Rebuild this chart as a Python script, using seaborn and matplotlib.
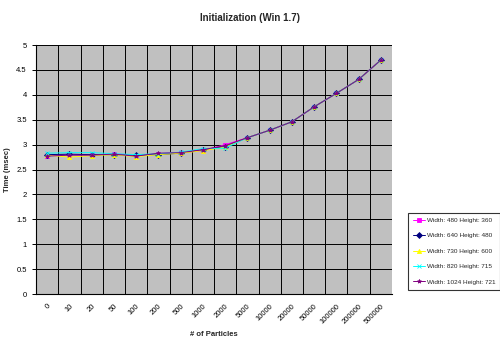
import matplotlib
matplotlib.use("Agg")
import matplotlib.pyplot as plt
import seaborn as sns
import pandas as pd
import numpy as np

categories = ["0", "10", "20", "50", "100", "200", "500", "1000", "2000", "5000",
              "10000", "20000", "50000", "100000", "200000", "500000"]

series_names = ["Width: 480 Height: 360", "Width: 640 Height: 480",
                "Width: 730 Height: 600", "Width: 820 Height: 715",
                "Width: 1024 Height: 721"]

s480 = [2.78, 2.80, 2.79, 2.82, 2.78, 2.82, 2.84, 2.88, 3.00, 3.14, 3.29, 3.46, 3.76, 4.03, 4.31, 4.70]
s640 = [2.80, 2.81, 2.80, 2.80, 2.79, 2.80, 2.83, 2.90, 2.96, 3.14, 3.29, 3.46, 3.76, 4.03, 4.31, 4.70]
s730 = [2.79, 2.75, 2.78, 2.80, 2.76, 2.80, 2.83, 2.88, 2.95, 3.14, 3.29, 3.46, 3.76, 4.03, 4.31, 4.70]
s820 = [2.83, 2.84, 2.84, 2.82, 2.80, 2.82, 2.85, 2.92, 2.93, 3.14, 3.29, 3.46, 3.76, 4.03, 4.31, 4.70]
s1024 = [2.77, 2.79, 2.79, 2.81, 2.77, 2.83, 2.84, 2.90, 2.98, 3.14, 3.29, 3.46, 3.76, 4.03, 4.31, 4.70]

colors = ["#FF00FF", "#000080", "#FFFF00", "#00FFFF", "#800080"]
markers = ["s", "D", "^", "x", "*"]

sns.set_style("white")
plt.rcParams['font.family'] = ['Liberation Sans', 'DejaVu Sans']

fig = plt.figure(figsize=(5.0, 3.44), dpi=100)
ax = fig.add_axes([0.072, 0.145, 0.712, 0.724])
ax.set_facecolor("#C0C0C0")

for name, vals, col, mk in zip(series_names, [s480, s640, s730, s820, s1024], colors, markers):
    d = pd.DataFrame({"Particles": categories, "Time": vals})
    sns.lineplot(data=d, x="Particles", y="Time", color=col, marker=mk,
                 linewidth=0.7, markersize=3, markeredgewidth=0.6,
                 markeredgecolor=col, sort=False, ax=ax, label=name)

n = len(categories)
ax.set_xlim(-0.5, n - 0.5)
ax.set_ylim(0, 5)
ax.set_yticks(np.arange(0, 5.01, 0.5))
ax.set_yticklabels(["0", "0.5", "1", "1.5", "2", "2.5", "3", "3.5", "4", "4.5", "5"])
ax.set_xticks(range(n))
ax.set_xticklabels(categories, rotation=45, ha="right", rotation_mode="anchor")
ax.set_xticks(np.arange(-0.5, n, 1.0), minor=True)
ax.tick_params(axis="x", which="major", length=0, labelsize=5.5, pad=6, colors="#000000")
ax.tick_params(axis="x", which="minor", length=3, width=0.7, color="#000000")
ax.tick_params(axis="y", which="major", length=3, width=0.7, labelsize=5.5, colors="#000000", left=True)
ax.grid(True, which="minor", axis="x", color="#000000", linewidth=0.7)
ax.grid(True, which="major", axis="y", color="#000000", linewidth=0.7)
ax.set_axisbelow(True)
for s in ["top", "right"]:
    ax.spines[s].set_visible(False)
for s in ["left", "bottom"]:
    ax.spines[s].set_color("#000000")
    ax.spines[s].set_linewidth(0.8)

ax.set_xlabel("# of Particles", fontsize=5.5, fontweight="bold", labelpad=4)
ax.set_ylabel("Time (msec)", fontsize=5.5, fontweight="bold", labelpad=4)
fig.text(0.5, 0.948, "Initialization (Win 1.7)", ha="center", va="center",
         fontsize=7, fontweight="bold")

handles, labels = ax.get_legend_handles_labels()
ax.legend_.remove()
leg = fig.legend(handles, labels, loc="center left", bbox_to_anchor=(0.816, 0.27),
                 fontsize=4.6, frameon=True, fancybox=False, edgecolor="#000000",
                 handlelength=1.8, borderpad=0.8, labelspacing=1.55, handletextpad=0.3,
                 borderaxespad=0)
leg.get_frame().set_linewidth(0.8)

fig.savefig("out.png", dpi=100)
